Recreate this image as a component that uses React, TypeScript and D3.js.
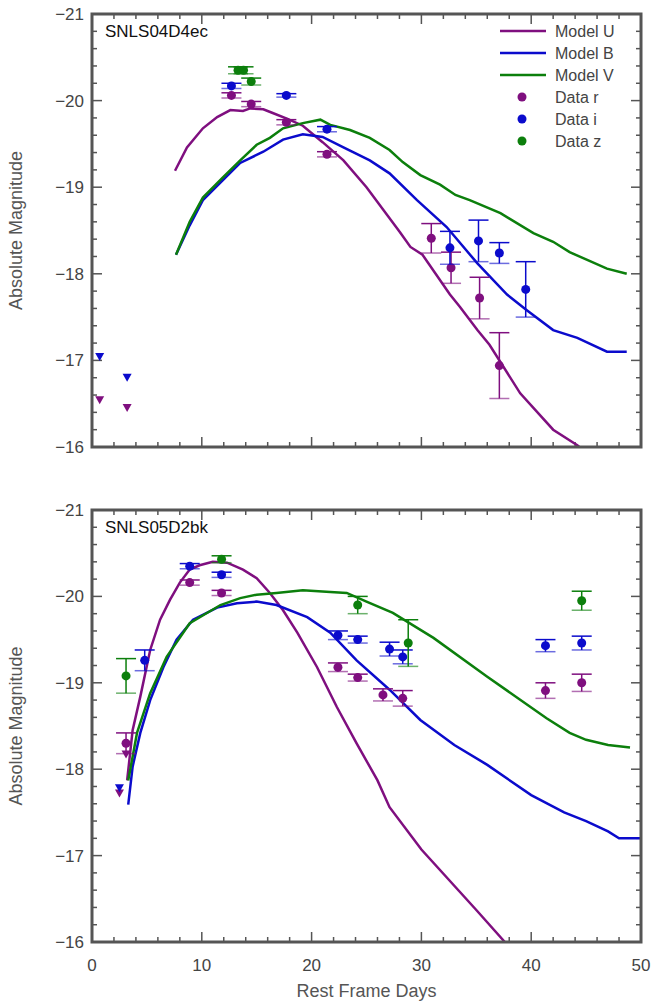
import React from "react";
import * as d3 from "d3";

type P = [number, number];
type Pt = { t: number; m: number; e: number };

// panel 1: SNLS04D4ec
const uTop: P[] = [[7.56,-19.19],[8.65,-19.46],[10.1,-19.68],[11.4,-19.81],[12.6,-19.89],[13.75,-19.88],[14.4,-19.91],[15.6,-19.9],[16.4,-19.86],[17.8,-19.79],[19.2,-19.71],[21.0,-19.52],[22.9,-19.31],[25.0,-19.0],[28.05,-18.48],[29.0,-18.31],[30.1,-18.22],[32.6,-17.76],[33.5,-17.62],[35.1,-17.35],[36.2,-17.18],[39.0,-16.62],[42.0,-16.2],[44.2,-16.02],[45.35,-15.9]];
const bTop: P[] = [[7.65,-18.22],[8.9,-18.56],[10.1,-18.85],[11.9,-19.08],[13.5,-19.28],[15.6,-19.41],[17.4,-19.55],[19.2,-19.61],[21.0,-19.58],[22.9,-19.46],[25.3,-19.31],[27.1,-19.16],[29.6,-18.85],[32.3,-18.54],[35.1,-18.12],[37.8,-17.76],[39.6,-17.58],[42.0,-17.35],[44.2,-17.26],[46.9,-17.1],[48.7,-17.1]];
const vTop: P[] = [[7.65,-18.22],[8.9,-18.6],[10.1,-18.88],[11.9,-19.11],[13.5,-19.31],[15.0,-19.49],[16.2,-19.57],[17.4,-19.68],[19.2,-19.74],[20.8,-19.78],[21.7,-19.72],[23.5,-19.66],[25.3,-19.57],[27.1,-19.43],[28.3,-19.29],[29.9,-19.14],[31.7,-19.03],[33.1,-18.91],[34.4,-18.85],[37.2,-18.7],[40.2,-18.47],[42.0,-18.37],[43.5,-18.25],[45.1,-18.16],[46.9,-18.06],[48.7,-18.0]];
const rTop: Pt[] = [{t:12.7,m:-20.06,e:0.03},{t:14.5,m:-19.96,e:0.03},{t:17.7,m:-19.75,e:0.03},{t:21.4,m:-19.38,e:0.03},{t:30.9,m:-18.41,e:0.17},{t:32.7,m:-18.07,e:0.18},{t:35.3,m:-17.72,e:0.24},{t:37.1,m:-16.94,e:0.38}];
const iTop: Pt[] = [{t:12.7,m:-20.17,e:0.03},{t:17.7,m:-20.06,e:0.02},{t:21.4,m:-19.67,e:0.03},{t:32.6,m:-18.3,e:0.19},{t:35.2,m:-18.38,e:0.24},{t:37.1,m:-18.24,e:0.12},{t:39.5,m:-17.82,e:0.32}];
const zTop: Pt[] = [{t:13.3,m:-20.35,e:0.04},{t:13.8,m:-20.35,e:0.04},{t:14.5,m:-20.22,e:0.04}];
const limRTop: P[] = [[0.7,-16.54],[3.2,-16.45]];
const limITop: P[] = [[0.7,-17.04],[3.2,-16.8]];

// panel 2: SNLS05D2bk
const uBot: P[] = [[3.2,-17.87],[3.7,-18.45],[4.4,-18.84],[5.3,-19.38],[6.2,-19.73],[7.1,-19.96],[8.0,-20.16],[8.9,-20.31],[9.8,-20.36],[11.0,-20.4],[12.3,-20.39],[13.75,-20.31],[15.0,-20.21],[16.2,-20.04],[17.4,-19.84],[18.7,-19.58],[20.5,-19.18],[22.3,-18.72],[24.1,-18.3],[26.0,-17.87],[27.1,-17.56],[30.0,-17.07],[35.0,-16.37],[37.6,-16.0]];
const bBot: P[] = [[3.3,-17.59],[3.7,-18.03],[4.4,-18.42],[5.3,-18.8],[6.5,-19.18],[7.7,-19.5],[9.2,-19.73],[11.4,-19.87],[13.2,-19.92],[15.0,-19.94],[16.8,-19.9],[19.6,-19.76],[21.7,-19.58],[24.1,-19.26],[27.1,-18.92],[29.9,-18.57],[33.0,-18.28],[36.0,-18.05],[40.0,-17.7],[43.0,-17.5],[45.0,-17.4],[47.0,-17.28],[48.0,-17.2],[50.0,-17.2]];
const vBot: P[] = [[3.3,-17.87],[4.1,-18.42],[5.3,-18.88],[6.8,-19.3],[8.9,-19.69],[11.7,-19.9],[13.5,-19.98],[15.0,-20.02],[16.8,-20.04],[19.2,-20.07],[21.7,-20.05],[23.2,-20.04],[25.0,-19.94],[27.4,-19.81],[31.1,-19.52],[36.0,-19.07],[41.4,-18.59],[43.5,-18.42],[45.0,-18.34],[47.0,-18.28],[49.0,-18.25]];
const rBot: Pt[] = [{t:3.1,m:-18.3,e:0.12},{t:8.9,m:-20.16,e:0.03},{t:11.8,m:-20.04,e:0.03},{t:22.4,m:-19.18,e:0.05},{t:24.2,m:-19.06,e:0.04},{t:26.5,m:-18.86,e:0.07},{t:28.3,m:-18.82,e:0.09},{t:41.3,m:-18.91,e:0.09},{t:44.6,m:-19.0,e:0.1}];
const iBot: Pt[] = [{t:4.8,m:-19.26,e:0.12},{t:8.9,m:-20.35,e:0.03},{t:11.8,m:-20.25,e:0.03},{t:22.4,m:-19.55,e:0.05},{t:24.2,m:-19.5,e:0.04},{t:27.1,m:-19.39,e:0.08},{t:28.3,m:-19.3,e:0.08},{t:41.3,m:-19.43,e:0.07},{t:44.6,m:-19.46,e:0.08}];
const zBot: Pt[] = [{t:3.1,m:-19.08,e:0.2},{t:11.8,m:-20.43,e:0.04},{t:24.2,m:-19.9,e:0.1},{t:28.8,m:-19.46,e:0.27},{t:44.6,m:-19.95,e:0.11}];
const limRBot: P[] = [[3.1,-18.17],[2.5,-17.72]];
const limIBot: P[] = [[2.5,-17.78]];

const legendNames = ["Model U", "Model B", "Model V", "Data r", "Data i", "Data z"];
const xTicks = [0, 10, 20, 30, 40, 50];
const yTicks = [-21, -20, -19, -18, -17, -16];

const PURPLE = "#7f0f7f";
const BLUE = "#0b0bcc";
const GREEN = "#0c7f0c";
const FONT = "Liberation Sans, Arial, sans-serif";

const X0 = 92, X1 = 641;

function Panel({ top, bottom, title, u, b, v, r, i, z, limR, limI, legend }: any) {
  const x = d3.scaleLinear().domain([0, 50]).range([X0, X1]);
  const y = d3.scaleLinear().domain([-21, -16]).range([top, bottom]);
  const ln = d3.line<P>().x(d => x(d[0])).y(d => y(d[1]));
  const minorX = d3.range(0, 50.01, 2);
  const minorY = d3.range(-21, -15.99, 0.2);
  const fmt = (n: number) => (n < 0 ? "\u2212" + Math.abs(n) : String(n));
  const dots = (data: Pt[], c: string) =>
    data.map((p, k) => (
      <g key={k}>
        <line x1={x(p.t)} x2={x(p.t)} y1={y(p.m - p.e)} y2={y(p.m + p.e)} stroke={c} strokeWidth={1.5} />
        <line x1={x(p.t) - 10} x2={x(p.t) + 10} y1={y(p.m - p.e)} y2={y(p.m - p.e)} stroke={c} strokeWidth={1.5} />
        <line x1={x(p.t) - 10} x2={x(p.t) + 10} y1={y(p.m + p.e)} y2={y(p.m + p.e)} stroke={c} strokeWidth={1.5} opacity={0.6} />
        <circle cx={x(p.t)} cy={y(p.m)} r={4.5} fill={c} />
      </g>
    ));
  const tri = (data: P[], c: string) =>
    data.map((p, k) => (
      <path key={k} d={`M${x(p[0]) - 4.5},${y(p[1]) - 4} L${x(p[0]) + 4.5},${y(p[1]) - 4} L${x(p[0])},${y(p[1]) + 4} Z`} fill={c} />
    ));
  const clipId = "clip" + top;
  return (
    <g>
      <defs>
        <clipPath id={clipId}><rect x={X0} y={top} width={X1 - X0} height={bottom - top} /></clipPath>
      </defs>
      <g stroke="#555" strokeWidth={1.5}>
        {minorX.map(t => (
          <g key={"mx" + t}>
            <line x1={x(t)} x2={x(t)} y1={bottom} y2={bottom - (t % 10 === 0 ? 10 : 5)} />
            <line x1={x(t)} x2={x(t)} y1={top} y2={top + (t % 10 === 0 ? 10 : 5)} />
          </g>
        ))}
        {minorY.map((t, k) => (
          <g key={"my" + k}>
            <line x1={X0} x2={X0 + (k % 5 === 0 ? 10 : 5)} y1={y(t)} y2={y(t)} />
            <line x1={X1} x2={X1 - (k % 5 === 0 ? 10 : 5)} y1={y(t)} y2={y(t)} />
          </g>
        ))}
      </g>
      <g clipPath={`url(#${clipId})`}>
        <path d={ln(u) || ""} fill="none" stroke={PURPLE} strokeWidth={2.5} />
        <path d={ln(b) || ""} fill="none" stroke={BLUE} strokeWidth={2.5} />
        <path d={ln(v) || ""} fill="none" stroke={GREEN} strokeWidth={2.5} />
        {dots(r, PURPLE)}
        {dots(i, BLUE)}
        {dots(z, GREEN)}
        {tri(limR, PURPLE)}
        {tri(limI, BLUE)}
      </g>
      <rect x={X0} y={top} width={X1 - X0} height={bottom - top} fill="none" stroke="#555" strokeWidth={3} />
      {yTicks.map(t => (
        <text key={"yl" + t} x={X0 - 8} y={y(t) + 6} textAnchor="end" fontSize={17} fill="#444">{fmt(t)}</text>
      ))}
      <text x={22} y={(top + bottom) / 2} transform={`rotate(-90 22 ${(top + bottom) / 2})`} textAnchor="middle" fontSize={18} fill="#555">Absolute Magnitude</text>
      <text x={105} y={top + 23} fontSize={17} fill="#111">{title}</text>
      {legend &&
        legendNames.map((n, k) => {
          const c = [PURPLE, BLUE, GREEN][k % 3];
          const ly = top + 23 + k * 22;
          return (
            <g key={n}>
              {k < 3 ? (
                <line x1={500} x2={546} y1={ly - 6} y2={ly - 6} stroke={c} strokeWidth={2.5} />
              ) : (
                <circle cx={522} cy={ly - 6} r={4.5} fill={c} />
              )}
              <text x={555} y={ly} fontSize={16} fill="#444">{n}</text>
            </g>
          );
        })}
    </g>
  );
}

export default function App() {
  const x = d3.scaleLinear().domain([0, 50]).range([X0, X1]);
  return (
    <svg width={672} height={1004} style={{ position: "absolute", left: 0, top: 0, fontFamily: FONT }}>
      <rect width={672} height={1004} fill="#fff" />
      <Panel top={14} bottom={447} title="SNLS04D4ec" u={uTop} b={bTop} v={vTop} r={rTop} i={iTop} z={zTop} limR={limRTop} limI={limITop} legend />
      <Panel top={510} bottom={942} title="SNLS05D2bk" u={uBot} b={bBot} v={vBot} r={rBot} i={iBot} z={zBot} limR={limRBot} limI={limIBot} legend={false} />
      {xTicks.map(t => (
        <text key={t} x={x(t)} y={971} textAnchor="middle" fontSize={17} fill="#444">{t}</text>
      ))}
      <text x={(X0 + X1) / 2} y={997} textAnchor="middle" fontSize={18} fill="#555">Rest Frame Days</text>
    </svg>
  );
}
